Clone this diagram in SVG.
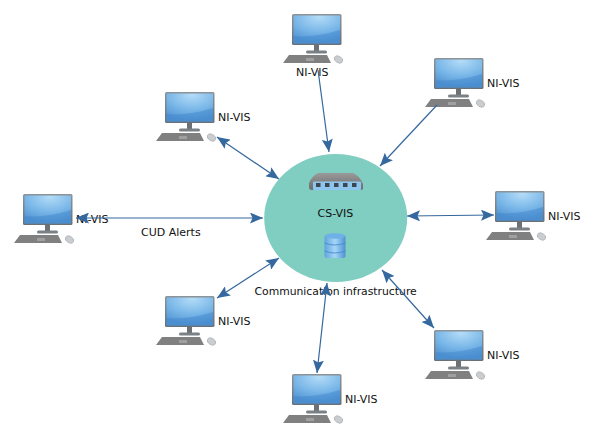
<svg xmlns="http://www.w3.org/2000/svg" width="597" height="435" viewBox="0 0 597 435">
<style>
text{font-family:"DejaVu Sans","Liberation Sans",sans-serif;font-size:11px;fill:#111}
.c{fill:none;stroke:#34689f;stroke-width:1.2}
</style>
<defs>
<radialGradient id="scr" cx="0.55" cy="0.05" r="0.9"><stop offset="0" stop-color="#b4dcf7"/><stop offset="0.6" stop-color="#78b6e8"/><stop offset="1" stop-color="#5596d3"/></radialGradient>
<linearGradient id="bez" x1="0" y1="0" x2="0" y2="1"><stop offset="0" stop-color="#8d9499"/><stop offset="1" stop-color="#6a7176"/></linearGradient>
<linearGradient id="sw" x1="0" y1="0" x2="0" y2="1"><stop offset="0" stop-color="#9a9a9a"/><stop offset="1" stop-color="#6b6b6b"/></linearGradient>
<linearGradient id="db" x1="0" y1="0" x2="1" y2="0"><stop offset="0" stop-color="#5ea4de"/><stop offset="0.5" stop-color="#a6d6f7"/><stop offset="1" stop-color="#4d92d2"/></linearGradient>
<marker id="a" viewBox="0 0 13 11" refX="13" refY="5.500" markerWidth="13" markerHeight="11" markerUnits="userSpaceOnUse" orient="auto-start-reverse"><path d="M0 0L13 5.500L0 11L2.500 5.500z" fill="#34689f"/></marker>
<g id="pc">
<rect x="0" y="0" width="49.500" height="31" rx="1.500" fill="url(#bez)"/>
<rect x="1.500" y="1.500" width="46.500" height="28" fill="url(#scr)"/>
<path d="M1.500 29.500V22Q22 24 48 16V29.500z" fill="#3f86cb" opacity="0.45"/>
<rect x="22" y="31" width="5" height="6" fill="#6b7175"/>
<rect x="14" y="36.500" width="21" height="3" rx="1.500" fill="#7b8084"/>
<path d="M-3 41H35L39 49H-9z" fill="#808080"/>
<rect x="14" y="44" width="8" height="3" fill="#a0a0a0"/>
<ellipse cx="46.500" cy="45.500" rx="4.500" ry="3.200" transform="rotate(30 46.500 45.500)" fill="#c9cdd0" stroke="#9a9ea2" stroke-width="0.500"/>
</g>
</defs>
<rect width="597" height="435" fill="#fff"/>
<g id="cs-vis">
<ellipse cx="335.700" cy="218" rx="71.500" ry="64" fill="#80cdc1"/>
<path d="M309 183Q312 176 318 173H353Q360 176 363 184V189Q362 190 360 190H312Q309 190 309 187z" fill="url(#sw)"/>
<rect x="313" y="181.500" width="48" height="8.500" rx="1" fill="#8ec5ee"/>
<g fill="#3d4650"><rect x="316" y="183" width="4.500" height="4"/><rect x="325" y="183" width="4.500" height="4"/><rect x="334" y="183" width="4.500" height="4"/><rect x="343" y="183" width="4.500" height="4"/><rect x="352" y="183" width="4.500" height="4"/></g>
<rect x="324.500" y="235" width="21" height="23" rx="2" fill="url(#db)"/>
<ellipse cx="335" cy="236" rx="10.500" ry="2.800" fill="#6fb0e6"/>
<path d="M324.500 243q10.500 4 21 0M324.500 251q10.500 4 21 0" fill="none" stroke="#3f86cb" stroke-width="0.800"/>
<text x="317.500" y="217">CS-VIS</text>
<text x="254.500" y="295" font-size="10.800" style="font-size:10.800px">Communication infrastructure</text>
</g>
<g id="pc-top"><use href="#pc" x="292" y="14"/><text x="296" y="76">NI-VIS</text></g>
<g id="pc-top-right"><use href="#pc" x="434" y="58"/><text x="487" y="87">NI-VIS</text></g>
<g id="pc-right"><use href="#pc" x="495" y="191"/><text x="548" y="220">NI-VIS</text></g>
<g id="pc-bottom-right"><use href="#pc" x="434" y="330"/><text x="487" y="359">NI-VIS</text></g>
<g id="pc-bottom"><use href="#pc" x="292" y="374"/><text x="345" y="403">NI-VIS</text></g>
<g id="pc-bottom-left"><use href="#pc" x="165" y="296"/><text x="218" y="325">NI-VIS</text></g>
<g id="pc-left"><use href="#pc" x="23" y="194"/><text x="76" y="223">NI-VIS</text></g>
<g id="pc-top-left"><use href="#pc" x="165" y="92"/><text x="218" y="121">NI-VIS</text></g>
<g id="connectors">
<path class="c" d="M318 70L329 152" marker-end="url(#a)"/>
<path class="c" d="M437 105L380 166" marker-end="url(#a)"/>
<path class="c" d="M407 216L494 215" marker-start="url(#a)" marker-end="url(#a)"/>
<path class="c" d="M382 270L434 328" marker-start="url(#a)" marker-end="url(#a)"/>
<path class="c" d="M327 283L317 373" marker-start="url(#a)" marker-end="url(#a)"/>
<path class="c" d="M279 258L217 298" marker-start="url(#a)" marker-end="url(#a)"/>
<path class="c" d="M263 218L76 218" marker-start="url(#a)" marker-end="url(#a)"/>
<path class="c" d="M279 179L217 137" marker-start="url(#a)" marker-end="url(#a)"/>
</g>
<text id="cud-label" x="141" y="236">CUD Alerts</text>
</svg>
